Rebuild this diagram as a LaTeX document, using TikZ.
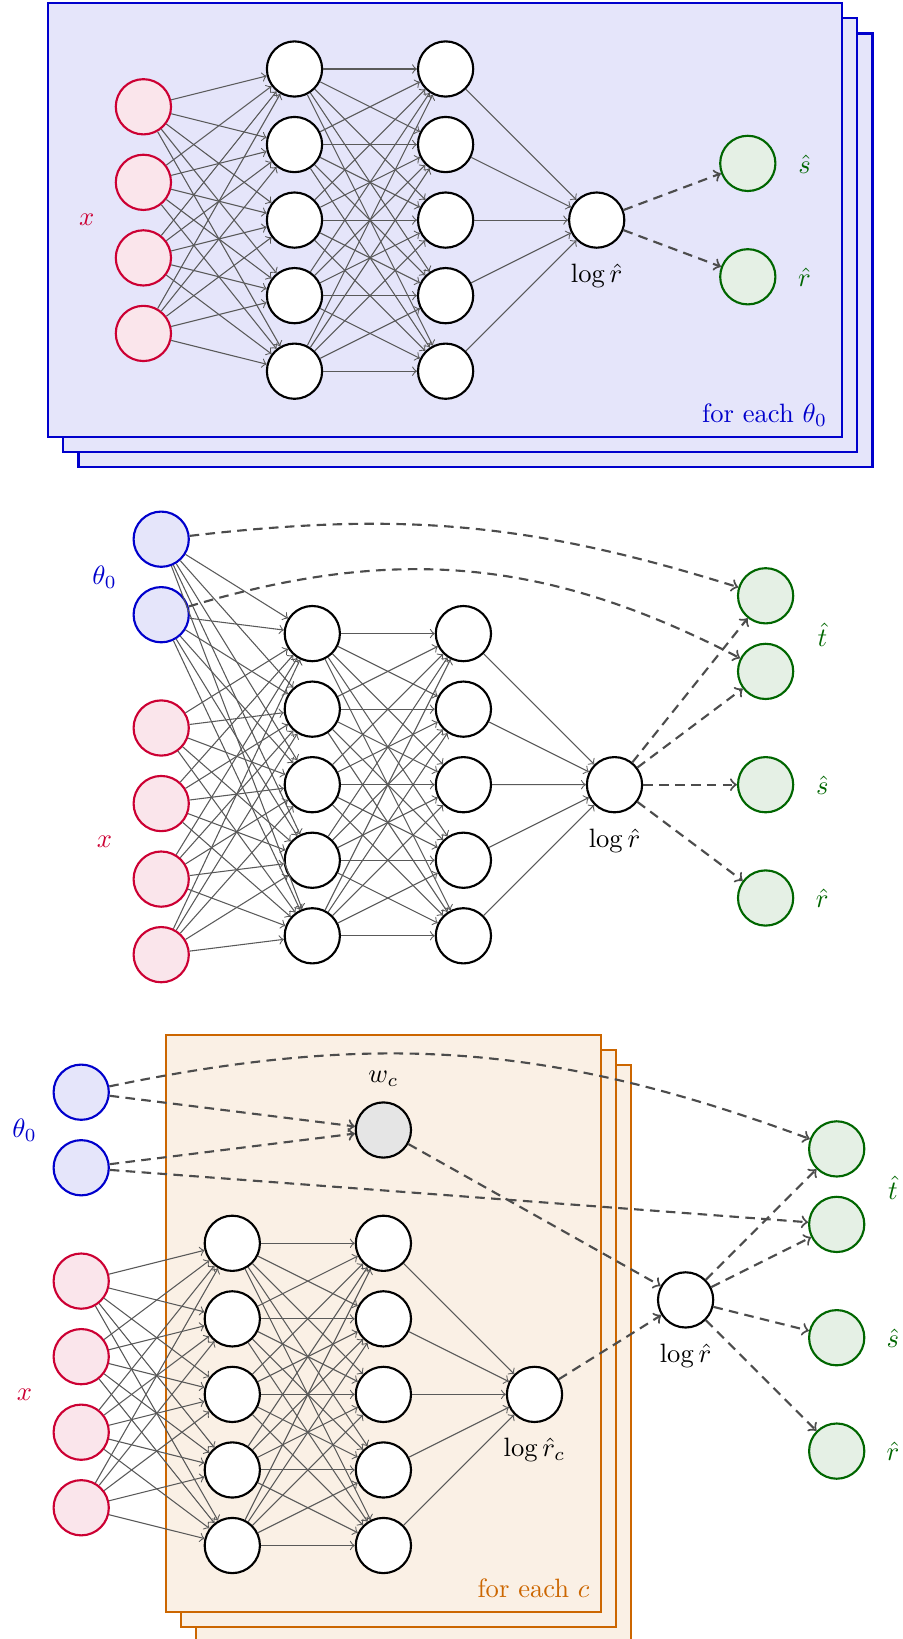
\documentclass[tikz,border=0pt]{standalone}
\usepackage{amsmath}

\definecolor{thetablue}{RGB}{0,0,204}
\definecolor{xred}{RGB}{204,0,51}
\definecolor{outgreen}{RGB}{0,102,0}
\definecolor{corange}{RGB}{204,102,0}

\tikzset{
  neuron/.style={circle,draw=black,thick,fill=white,minimum size=20.8pt,inner sep=0pt},
  xin/.style={neuron,draw=xred,fill=xred!10},
  thetain/.style={neuron,draw=thetablue,fill=thetablue!10},
  outnode/.style={neuron,draw=outgreen,fill=outgreen!10},
  weightnode/.style={neuron,fill=black!10},
  lbl/.style={inner sep=1pt},
  conn/.style={->,black!65},
  flow/.style={->,thick,black!70,dash pattern=on 3.6pt off 2.4pt},
  blueframe/.style={draw=thetablue,thick,fill=thetablue!10},
  orangeframe/.style={draw=corange,thick,fill=corange!10},
}

\begin{document}
\begin{tikzpicture}[x=0.3766pt,y=0.3766pt,yscale=-1]
  \useasboundingbox (0,0) rectangle (902,1639);

  %%% Panel 1: one network for each theta_0
  %Shape: Rectangle stack
  \draw[blueframe] (78.5,33.5) rectangle (872.5,466.9);
  \draw[blueframe] (63.4,18.4) rectangle (857.4,451.8);
  \draw[blueframe] (48.3,3.3) rectangle (842.3,436.7);
  % Text Node
  \node[anchor=base east,inner sep=0pt,text=thetablue] (a-each) at (827.5,422.7) {for each $\theta_0$};

  %Shape: Circles
  \foreach \i in {1,...,4}
    \node[xin] (a-x\i) at (143.4,{106.8+75.55*(\i-1)}) {};
  \foreach \i in {1,...,5} {
    \node[neuron] (a-h\i) at (294.5,{69+75.55*(\i-1)}) {};
    \node[neuron] (a-g\i) at (445.6,{69+75.55*(\i-1)}) {};
  }
  \node[neuron] (a-r) at (596.7,220.1) {};
  \node[outnode] (a-o1) at (747.8,163.4) {};
  \node[outnode] (a-o2) at (747.8,276.8) {};

  % Text Node
  \node[lbl,text=xred] (a-xl) at (86.7,220.1) {$x$};
  \node[lbl] (a-rl) at (596.7,275.8) {$\log\hat{r}$};
  \node[lbl,text=outgreen] (a-sl) at (804.5,164.2) {$\hat{s}$};
  \node[lbl,text=outgreen] (a-ol) at (804.5,277.0) {$\hat{r}$};

  %Arrows
  \foreach \i in {1,...,4}
    \foreach \j in {1,...,5}
      \draw[conn] (a-x\i) -- (a-h\j);
  \foreach \i in {1,...,5} {
    \foreach \j in {1,...,5}
      \draw[conn] (a-h\i) -- (a-g\j);
    \draw[conn] (a-g\i) -- (a-r);
  }
  \draw[flow] (a-r) -- (a-o1);
  \draw[flow] (a-r) -- (a-o2);

  %%% Panel 2: theta_0 as extra input
  %Shape: Circles
  \node[thetain] (b-t1) at (161.2,539.2) {};
  \node[thetain] (b-t2) at (161.2,614.7) {};
  \foreach \i in {1,...,4}
    \node[xin] (b-x\i) at (161.2,{728.0+75.55*(\i-1)}) {};
  \foreach \i in {1,...,5} {
    \node[neuron] (b-h\i) at (312.3,{633.6+75.55*(\i-1)}) {};
    \node[neuron] (b-g\i) at (463.4,{633.6+75.55*(\i-1)}) {};
  }
  \node[neuron] (b-r) at (614.5,784.7) {};
  \node[outnode] (b-o1) at (765.6,595.8) {};
  \node[outnode] (b-o2) at (765.6,671.4) {};
  \node[outnode] (b-o3) at (765.6,784.7) {};
  \node[outnode] (b-o4) at (765.6,898.0) {};

  % Text Node
  \node[lbl,text=thetablue] (b-tl) at (104.5,577.0) {$\theta_0$};
  \node[lbl,text=xred] (b-xl) at (104.5,841.4) {$x$};
  \node[lbl] (b-rl) at (614.5,840.4) {$\log\hat{r}$};
  \node[lbl,text=outgreen] (b-ttl) at (822.3,634.4) {$\hat{t}$};
  \node[lbl,text=outgreen] (b-sl) at (822.3,785.5) {$\hat{s}$};
  \node[lbl,text=outgreen] (b-ol) at (822.3,898.2) {$\hat{r}$};

  %Arrows
  \foreach \i in {1,2}
    \foreach \j in {1,...,5}
      \draw[conn] (b-t\i) -- (b-h\j);
  \foreach \i in {1,...,4}
    \foreach \j in {1,...,5}
      \draw[conn] (b-x\i) -- (b-h\j);
  \foreach \i in {1,...,5} {
    \foreach \j in {1,...,5}
      \draw[conn] (b-h\i) -- (b-g\j);
    \draw[conn] (b-g\i) -- (b-r);
  }
  \draw[flow] (b-t1) to[bend right=12] (b-o1);
  \draw[flow] (b-t2) to[bend right=22] (b-o2);
  \foreach \j in {1,...,4}
    \draw[flow] (b-r) -- (b-o\j);

  %%% Panel 3: one network for each c, combined with weights
  %Shape: Rectangle stack
  \draw[orangeframe] (195.9,1065.2) rectangle (631.2,1642.2);
  \draw[orangeframe] (180.8,1050.1) rectangle (616.1,1627.1);
  \draw[orangeframe] (165.7,1035.0) rectangle (601.0,1612.0);
  % Text Node
  \node[anchor=base east,inner sep=0pt,text=corange] (c-each) at (590,1597.7) {for each $c$};

  %Shape: Circles
  \node[thetain] (c-t1) at (81.2,1092.2) {};
  \node[thetain] (c-t2) at (81.2,1167.75) {};
  \foreach \i in {1,...,4}
    \node[xin] (c-x\i) at (81.2,{1281.1+75.55*(\i-1)}) {};
  \foreach \i in {1,...,5} {
    \node[neuron] (c-h\i) at (232.3,{1243.3+75.55*(\i-1)}) {};
    \node[neuron] (c-g\i) at (383.4,{1243.3+75.55*(\i-1)}) {};
  }
  \node[weightnode] (c-w) at (383.4,1130.0) {};
  \node[neuron] (c-rc) at (534.5,1394.4) {};
  \node[neuron] (c-r) at (685.6,1299.9) {};
  \node[outnode] (c-o1) at (836.7,1148.9) {};
  \node[outnode] (c-o2) at (836.7,1224.4) {};
  \node[outnode] (c-o3) at (836.7,1337.7) {};
  \node[outnode] (c-o4) at (836.7,1451.1) {};

  % Text Node
  \node[lbl,text=thetablue] (c-tl) at (24.5,1130.0) {$\theta_0$};
  \node[lbl,text=xred] (c-xl) at (24.5,1394.4) {$x$};
  \node[lbl] (c-wl) at (383.4,1078.3) {$w_c$};
  \node[lbl] (c-rcl) at (534.5,1450.2) {$\log\hat{r}_c$};
  \node[lbl] (c-rl) at (685.6,1355.7) {$\log\hat{r}$};
  \node[lbl,text=outgreen] (c-ttl) at (892.9,1187.4) {$\hat{t}$};
  \node[lbl,text=outgreen] (c-sl) at (892.9,1338.5) {$\hat{s}$};
  \node[lbl,text=outgreen] (c-ol) at (892.9,1451.3) {$\hat{r}$};

  %Arrows
  \foreach \i in {1,...,4}
    \foreach \j in {1,...,5}
      \draw[conn] (c-x\i) -- (c-h\j);
  \foreach \i in {1,...,5} {
    \foreach \j in {1,...,5}
      \draw[conn] (c-h\i) -- (c-g\j);
    \draw[conn] (c-g\i) -- (c-rc);
  }
  \draw[flow] (c-t1) to[bend right=16] (c-o1);
  \draw[flow] (c-t1) -- (c-w);
  \draw[flow] (c-t2) -- (c-w);
  \draw[flow] (c-t2) -- (c-o2);
  \draw[flow] (c-w) -- (c-r);
  \draw[flow] (c-rc) -- (c-r);
  \foreach \j in {1,...,4}
    \draw[flow] (c-r) -- (c-o\j);
\end{tikzpicture}
\end{document}
